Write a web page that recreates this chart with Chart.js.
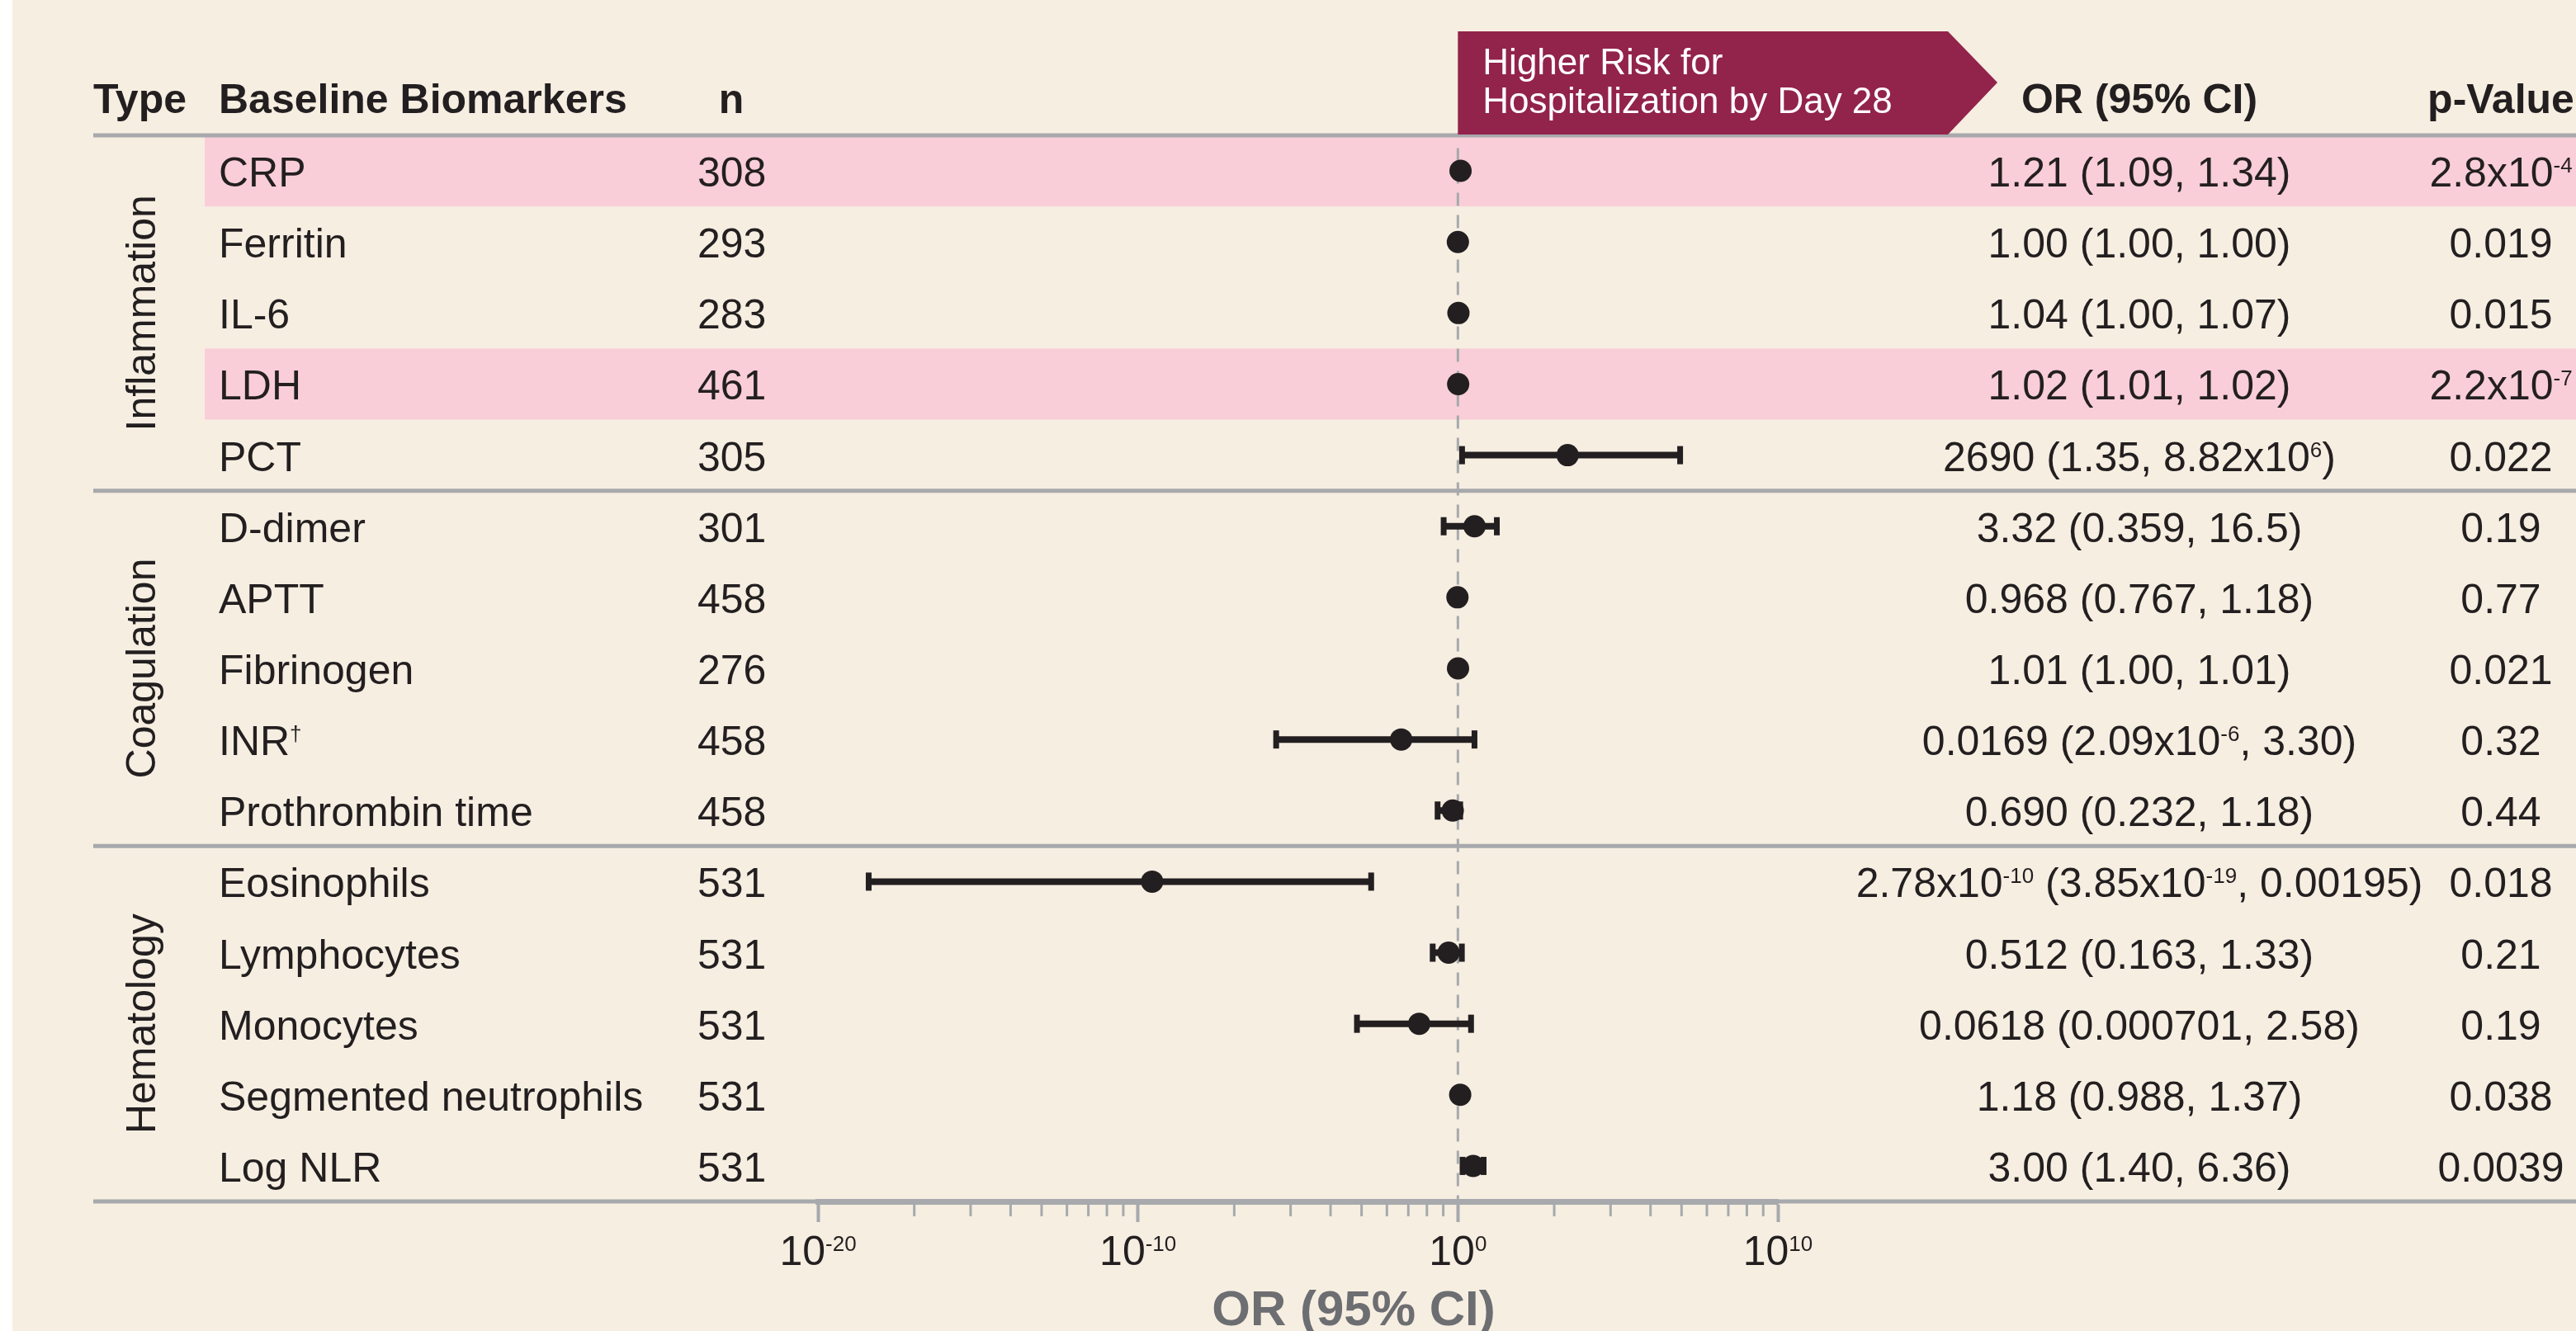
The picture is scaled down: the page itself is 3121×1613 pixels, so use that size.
<!DOCTYPE html>
<html>
<head>
<meta charset="utf-8">
<script src="https://cdn.jsdelivr.net/npm/chart.js@4.4.1/dist/chart.umd.min.js"></script>
<style>
  html, body { margin: 0; padding: 0; background: #ffffff; overflow: hidden; }
  canvas { display: block; }
</style>
</head>
<body>
<canvas id="c" width="3121" height="1613"></canvas>
<script>
// ---------------- DATA ----------------
const biomarkers = ["CRP", "Ferritin", "IL-6", "LDH", "PCT",
  "D-dimer", "APTT", "Fibrinogen", "INR^{\u2020}", "Prothrombin time",
  "Eosinophils", "Lymphocytes", "Monocytes", "Segmented neutrophils", "Log NLR"];
const nValues = [308, 293, 283, 461, 305, 301, 458, 276, 458, 458, 531, 531, 531, 531, 531];
const orValues = [1.21, 1.00, 1.04, 1.02, 2690, 3.32, 0.968, 1.01, 0.0169, 0.690,
  2.78e-10, 0.512, 0.0618, 1.18, 3.00];
const ciLow = [1.09, 1.00, 1.00, 1.01, 1.35, 0.359, 0.767, 1.00, 2.09e-6, 0.232,
  3.85e-19, 0.163, 0.000701, 0.988, 1.40];
const ciHigh = [1.34, 1.00, 1.07, 1.02, 8.82e6, 16.5, 1.18, 1.01, 3.30, 1.18,
  0.00195, 1.33, 2.58, 1.37, 6.36];
const orLabels = ["1.21 (1.09, 1.34)", "1.00 (1.00, 1.00)", "1.04 (1.00, 1.07)", "1.02 (1.01, 1.02)",
  "2690 (1.35, 8.82x10^{6})", "3.32 (0.359, 16.5)", "0.968 (0.767, 1.18)", "1.01 (1.00, 1.01)",
  "0.0169 (2.09x10^{-6}, 3.30)", "0.690 (0.232, 1.18)", "2.78x10^{-10} (3.85x10^{-19}, 0.00195)",
  "0.512 (0.163, 1.33)", "0.0618 (0.000701, 2.58)", "1.18 (0.988, 1.37)", "3.00 (1.40, 6.36)"];
const pLabels = ["2.8x10^{-4}", "0.019", "0.015", "2.2x10^{-7}", "0.022", "0.19", "0.77", "0.021",
  "0.32", "0.44", "0.018", "0.21", "0.19", "0.038", "0.0039"];
const highlightedRows = [0, 3];
const typeNames = ["Inflammation", "Coagulation", "Hematology"];
const typeFirstRow = [0, 5, 10];
const typeLastRow = [4, 9, 14];
const xTickValues = [1e-20, 1e-10, 1, 1e10];
const xTickLabels = ["10^{-20}", "10^{-10}", "10^{0}", "10^{10}"];
const headerLabels = ["Type", "Baseline Biomarkers", "n", "OR (95% CI)", "p-Value"];
const arrowLines = ["Higher Risk for", "Hospitalization by Day 28"];
const axisTitle = "OR (95% CI)";

// ---------------- STYLE ----------------
const W = 3121, H = 1613;
const FONT = "'Liberation Sans', Arial, Helvetica, sans-serif";
const INK = "#231f20";
const GRAY = "#a7a9ac";
const BG = "#f6eee1";
const PINK = "#f9ced8";
const MAROON = "#92234a";

function parseRich(s) {
  const parts = [];
  const re = /\^\{([^}]*)\}/g;
  let last = 0, m;
  while ((m = re.exec(s)) !== null) {
    if (m.index > last) parts.push({ t: s.slice(last, m.index), sup: false });
    parts.push({ t: m[1], sup: true });
    last = re.lastIndex;
  }
  if (last < s.length) parts.push({ t: s.slice(last), sup: false });
  return parts;
}
function drawRich(ctx, s, x, y, align, size, weight, color) {
  const parts = parseRich(s);
  const supSize = size * 0.52;
  let total = 0;
  parts.forEach(p => {
    ctx.font = weight + " " + (p.sup ? supSize : size) + "px " + FONT;
    p.w = ctx.measureText(p.t).width;
    total += p.w;
  });
  let cx = x;
  if (align === "center") cx = x - total / 2;
  else if (align === "right") cx = x - total;
  ctx.fillStyle = color;
  ctx.textAlign = "left";
  ctx.textBaseline = "alphabetic";
  parts.forEach(p => {
    ctx.font = weight + " " + (p.sup ? supSize : size) + "px " + FONT;
    ctx.fillText(p.t, cx, p.sup ? y - size * 0.34 : y);
    cx += p.w;
  });
}

// ---------------- DATASETS ----------------
const pointData = orValues.map((v, i) => ({ x: v, y: i }));
const capData = [];
const ciData = [];
ciLow.forEach((lo, i) => {
  capData.push({ x: lo, y: i }, { x: ciHigh[i], y: i });
  ciData.push({ x: lo, y: i }, { x: ciHigh[i], y: i }, { x: 1, y: null });
});
const refData = [{ x: 1, y: -0.32 }, { x: 1, y: 14.5 }];

const tablePlugin = {
  id: "tablePlugin",
  beforeDraw(chart) {
    const ctx = chart.ctx, ys = chart.scales.y;
    ctx.save();
    ctx.fillStyle = "#ffffff";
    ctx.fillRect(0, 0, W, H);
    ctx.fillStyle = BG;
    ctx.fillRect(15, 0, W - 15, H);
    ctx.fillStyle = PINK;
    highlightedRows.forEach(r => {
      const y0 = ys.getPixelForValue(r - 0.5), y1 = ys.getPixelForValue(r + 0.5);
      ctx.fillRect(248, y0, W - 248, y1 - y0);
    });
    ctx.restore();
  },
  beforeDatasetsDraw(chart) {
    const ctx = chart.ctx, ys = chart.scales.y, xs = chart.scales.x;
    ctx.save();
    ctx.strokeStyle = GRAY;
    ctx.lineWidth = 5;
    const seps = [-0.5, 4.5, 9.5, 14.5];
    seps.forEach(v => {
      const y = ys.getPixelForValue(v);
      ctx.beginPath(); ctx.moveTo(113, y); ctx.lineTo(W, y); ctx.stroke();
    });
    // minor ticks (log positions within each 10-decade span)
    const b = chart.chartArea.bottom;
    ctx.lineWidth = 3;
    for (let g = 0; g < xTickValues.length - 1; g++) {
      const e0 = Math.log10(xTickValues[g]), e1 = Math.log10(xTickValues[g + 1]);
      for (let k = 2; k <= 9; k++) {
        const v = Math.pow(10, e0 + (e1 - e0) * Math.log10(k));
        const px = xs.getPixelForValue(v);
        ctx.beginPath(); ctx.moveTo(px, b); ctx.lineTo(px, b + 18); ctx.stroke();
      }
    }
    ctx.restore();
  },
  afterDraw(chart) {
    const ctx = chart.ctx, ys = chart.scales.y, xs = chart.scales.x;
    ctx.save();
    // header labels
    const hy = 137;
    drawRich(ctx, headerLabels[0], 113, hy, "left", 50, "bold", INK);
    drawRich(ctx, headerLabels[1], 265, hy, "left", 50, "bold", INK);
    drawRich(ctx, headerLabels[2], 886, hy, "center", 50, "bold", INK);
    drawRich(ctx, headerLabels[3], 2592, hy, "center", 50, "bold", INK);
    drawRich(ctx, headerLabels[4], 3030, hy, "center", 50, "bold", INK);
    // rows
    biomarkers.forEach((name, i) => {
      const y = ys.getPixelForValue(i) + 19;
      drawRich(ctx, name, 265, y, "left", 50, "normal", INK);
      drawRich(ctx, String(nValues[i]), 845, y, "left", 50, "normal", INK);
      drawRich(ctx, orLabels[i], 2592, y, "center", 50, "normal", INK);
      drawRich(ctx, pLabels[i], 3030, y, "center", 50, "normal", INK);
    });
    // type labels (rotated)
    typeNames.forEach((t, k) => {
      const yc = ys.getPixelForValue((typeFirstRow[k] + typeLastRow[k]) / 2);
      ctx.save();
      ctx.translate(188, yc);
      ctx.rotate(-Math.PI / 2);
      drawRich(ctx, t, 0, 0, "center", 50, "normal", INK);
      ctx.restore();
    });
    // arrow box
    const x1 = xs.getPixelForValue(1);
    ctx.fillStyle = MAROON;
    ctx.beginPath();
    ctx.moveTo(x1, 38); ctx.lineTo(2360, 38); ctx.lineTo(2420, 100);
    ctx.lineTo(2360, 163); ctx.lineTo(x1, 163); ctx.closePath(); ctx.fill();
    drawRich(ctx, arrowLines[0], x1 + 30, 90, "left", 44, "normal", "#ffffff");
    drawRich(ctx, arrowLines[1], x1 + 30, 137, "left", 44, "normal", "#ffffff");
    // x tick labels
    xTickValues.forEach((v, i) => {
      drawRich(ctx, xTickLabels[i], xs.getPixelForValue(v), 1533, "center", 50, "normal", INK);
    });
    // axis title
    drawRich(ctx, axisTitle, 1640, 1606, "center", 60, "bold", "#6d6e71");
    ctx.restore();
  }
};

new Chart(document.getElementById("c"), {
  type: "scatter",
  data: {
    datasets: [
      { label: "OR", data: pointData, order: 0, pointStyle: "circle", pointRadius: 13.5,
        backgroundColor: INK, borderWidth: 0, showLine: false },
      { label: "CI caps", data: capData, order: 1, pointStyle: "line", rotation: 90, pointRadius: 11,
        borderColor: INK, pointBorderWidth: 7, borderWidth: 7, showLine: false },
      { label: "CI", data: ciData, order: 2, showLine: true, borderColor: INK, borderWidth: 8,
        pointRadius: 0, borderCapStyle: "butt", spanGaps: false },
      { label: "ref", data: refData, order: 3, showLine: true, borderColor: GRAY, borderWidth: 3,
        borderDash: [16, 11], pointRadius: 0, clip: false }
    ]
  },
  options: {
    responsive: false,
    animation: false,
    events: [],
    devicePixelRatio: 1,
    layout: { padding: { left: 991, right: 967, top: 164, bottom: 132 } },
    plugins: { legend: { display: false }, tooltip: { enabled: false }, title: { display: false } },
    scales: {
      x: {
        type: "logarithmic", min: 1e-20, max: 1e10, position: "bottom",
        afterBuildTicks: s => { s.ticks = xTickValues.map(v => ({ value: v, major: true })); },
        ticks: { display: false },
        grid: { display: true, drawOnChartArea: false, drawTicks: true, tickLength: 25,
          tickWidth: 4, tickColor: GRAY },
        border: { display: true, color: GRAY, width: 7 }
      },
      y: { type: "linear", min: -0.5, max: 14.5, reverse: true, display: false }
    }
  },
  plugins: [tablePlugin]
});
</script>
</body>
</html>
